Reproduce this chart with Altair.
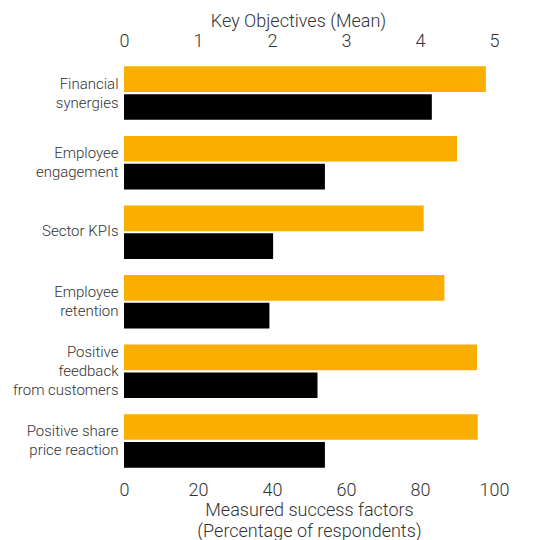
import altair as alt
import pandas as pd

categories = [
    "Financial\nsynergies",
    "Employee\nengagement",
    "Sector KPIs",
    "Employee\nretention",
    "Positive\nfeedback\nfrom customers",
    "Positive share\nprice reaction",
]
mean_values = [4.89, 4.50, 4.05, 4.33, 4.77, 4.78]
pct_values = [83.2, 54.3, 40.3, 39.3, 52.3, 54.3]
series = ["mean", "pct"]

rows = []
for c, m, p in zip(categories, mean_values, pct_values):
    rows.append({"category": c, "series": "mean", "value": m})
    rows.append({"category": c, "series": "pct", "value": p})
df = pd.DataFrame(rows)

FONT = "Roboto"
TXT = "#333333"
LINE_H = 19

y_enc = alt.Y(
    "category:N",
    sort=categories,
    scale=alt.Scale(paddingInner=0.231, paddingOuter=0.12),
    axis=alt.Axis(
        title=None,
        labelExpr="split(datum.label, '\\n')",
        ticks=False,
        domain=False,
        labelFontSize=15,
        labelLineHeight=LINE_H,
        labelPadding=6,
        labelColor=TXT,
        labelFont=FONT,
        labelFontWeight=300,
        labelOffset={
            "condition": [
                {"test": "length(split(datum.label, '\\n')) == 2", "value": -LINE_H / 2},
                {"test": "length(split(datum.label, '\\n')) == 3", "value": -LINE_H},
            ],
            "value": -1,
        },
    ),
)
yoff = alt.YOffset("series:N", scale=alt.Scale(domain=series, paddingInner=0.075))

base = alt.Chart(df)

orange = base.transform_filter(alt.datum.series == "mean").mark_bar(color="#F9AE00").encode(
    x=alt.X(
        "value:Q",
        scale=alt.Scale(domain=[0, 5], nice=False),
        axis=alt.Axis(
            orient="top",
            title="Key Objectives (Mean)",
            values=[0, 1, 2, 3, 4, 5],
            grid=False,
            domain=False,
            ticks=False,
            labelFontSize=18,
            labelPadding=8,
            titleFontSize=18,
            titlePadding=2,
            titleX=174,
            labelColor=TXT,
            titleColor=TXT,
            labelFont=FONT,
            titleFont=FONT,
            labelFontWeight=300,
            titleFontWeight=300,
            labelFlush=False,
        ),
    ),
    y=y_enc,
    yOffset=yoff,
)

black = base.transform_filter(alt.datum.series == "pct").mark_bar(color="#000000").encode(
    x=alt.X(
        "value:Q",
        scale=alt.Scale(domain=[0, 100], nice=False),
        axis=alt.Axis(
            orient="bottom",
            title=["Measured success factors", "(Percentage of respondents)"],
            values=[0, 20, 40, 60, 80, 100],
            grid=False,
            domain=False,
            ticks=False,
            labelFontSize=18,
            labelPadding=5,
            titleFontSize=18,
            titleLineHeight=21,
            titlePadding=2,
            labelColor=TXT,
            titleColor=TXT,
            labelFont=FONT,
            titleFont=FONT,
            labelFontWeight=300,
            titleFontWeight=300,
            labelFlush=False,
        ),
    ),
    y=y_enc,
    yOffset=yoff,
)

chart = (
    alt.layer(orange, black)
    .resolve_scale(x="independent")
    .properties(
        width=370,
        height=418,
        autosize=alt.AutoSizeParams(type="none"),
        padding={"left": 124, "top": 58, "right": 49, "bottom": 64},
    )
    .configure_view(stroke=None)
)

chart.save("out.html", embed_options={"renderer": "svg", "actions": False})
